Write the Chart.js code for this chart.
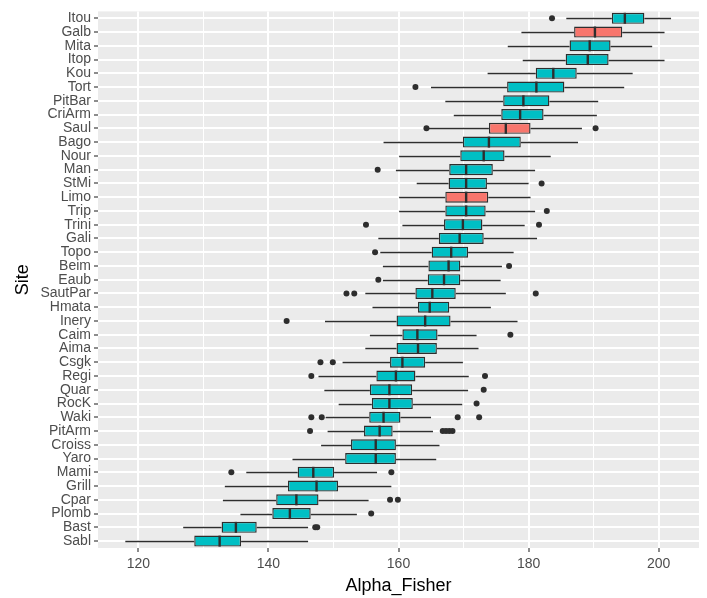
<!DOCTYPE html>
<html>
<head>
<meta charset="utf-8">
<script src="https://cdn.jsdelivr.net/npm/chart.js@4"></script>
<style>
html,body{margin:0;padding:0;background:#fff;}
#wrap{width:707px;height:598px;}
</style>
</head>
<body>
<div id="wrap"><canvas id="c" width="707" height="598"></canvas></div>
<script>
const sites = ['Itou','Galb','Mita','Itop','Kou','Tort','PitBar','CriArm','Saul','Bago','Nour','Man','StMi','Limo','Trip','Trini','Gali','Topo','Beim','Eaub','SautPar','Hmata','Inery','Caim','Aima','Csgk','Regi','Quar','RocK','Waki','PitArm','Croiss','Yaro','Mami','Grill','Cpar','Plomb','Bast','Sabl'];
const whiskerLow  = [185.8,178.9,176.8,179.1,173.7,165.0,167.2,168.5,164.6,157.7,160.1,159.6,162.8,160.1,160.1,160.6,156.9,157.2,157.6,157.6,154.9,156.0,148.7,155.6,154.9,151.4,147.7,148.6,150.8,148.8,149.1,148.1,143.7,136.6,133.3,133.0,135.7,126.9,118.0];
const q1          = [192.8,187.0,186.3,185.7,181.1,176.7,176.1,175.8,173.9,169.9,169.5,167.8,167.7,167.2,167.2,167.0,166.2,165.1,164.6,164.5,162.6,163.0,159.7,160.6,159.7,158.7,156.6,155.6,155.9,155.5,154.7,152.7,151.8,144.5,143.0,141.2,140.6,132.8,128.6];
const median      = [194.8,190.2,189.4,189.1,183.8,181.2,179.2,178.7,176.5,173.9,173.1,170.4,170.4,170.4,170.4,169.9,169.4,168.1,167.7,167.0,165.2,164.8,164.1,162.9,163.0,160.6,159.6,158.6,158.6,157.7,157.1,156.5,156.5,146.9,147.4,144.3,143.3,135.0,132.5];
const q3          = [197.8,194.4,192.6,192.3,187.4,185.5,183.2,182.3,180.3,178.8,176.3,174.5,173.6,173.8,173.4,172.9,173.1,170.7,169.5,169.5,168.8,167.8,168.0,166.0,165.9,164.1,162.6,162.1,162.2,160.3,159.1,159.6,159.6,150.1,150.7,147.7,146.5,138.2,135.8];
const whiskerHigh = [201.9,200.9,199.0,200.9,196.0,194.7,190.7,190.5,188.2,187.6,183.4,181.0,180.0,180.3,181.0,179.4,181.3,177.7,175.9,175.7,176.5,174.2,178.3,172.0,172.3,169.9,170.8,170.7,169.8,165.0,165.3,166.3,165.8,156.7,158.9,155.4,153.6,146.1,146.1];
const redSites = ['Galb','Saul','Limo'];
const outliers = [
  ['Itou',183.6],['Tort',162.6],['Saul',164.3],['Saul',190.3],['Man',156.8],['StMi',182.0],
  ['Trip',182.8],['Trini',155.0],['Trini',181.6],['Topo',156.4],['Beim',177.0],['Eaub',156.9],
  ['SautPar',152.0],['SautPar',153.2],['SautPar',181.1],['Inery',142.8],['Caim',177.2],
  ['Csgk',148.0],['Csgk',149.9],['Regi',146.6],['Regi',173.3],['Quar',173.1],['RocK',172.0],
  ['Waki',146.6],['Waki',148.2],['Waki',169.1],['Waki',172.4],['PitArm',146.4],
  ['PitArm',166.8],['PitArm',167.3],['PitArm',167.8],['PitArm',168.3],
  ['Mami',134.3],['Mami',158.9],['Cpar',158.7],['Cpar',159.9],['Plomb',155.8],
  ['Bast',147.2],['Bast',147.5]
];
const xMajorTicks = [120,140,160,180,200];
const xMinorTicks = [130,150,170,190];
const xMin = 113.8, xMax = 206.2;

const TEAL = '#00BFC4', RED = '#F8766D', EDGE = '#2E2E2E';
const FONT = "'Liberation Sans', Arial, Helvetica, sans-serif";

const boxPlugin = {
  id: 'boxParts',
  beforeDraw(chart) {
    const {ctx, chartArea: a} = chart;
    ctx.save();
    ctx.fillStyle = '#EBEBEB';
    ctx.fillRect(a.left, a.top, a.right - a.left, a.bottom - a.top);
    ctx.restore();
  },
  beforeDatasetsDraw(chart) {
    const {ctx} = chart;
    const xs = chart.scales.x, ys = chart.scales.y;
    ctx.save();
    ctx.strokeStyle = EDGE;
    ctx.lineWidth = 1.3;
    sites.forEach((s, i) => {
      const y = Math.round(ys.getPixelForValue(i)) + 0.5;
      ctx.beginPath();
      ctx.moveTo(xs.getPixelForValue(whiskerLow[i]), y);
      ctx.lineTo(xs.getPixelForValue(q1[i]), y);
      ctx.moveTo(xs.getPixelForValue(q3[i]), y);
      ctx.lineTo(xs.getPixelForValue(whiskerHigh[i]), y);
      ctx.stroke();
    });
    ctx.restore();
  },
  afterDatasetsDraw(chart) {
    const {ctx} = chart;
    const xs = chart.scales.x;
    const meta = chart.getDatasetMeta(0);
    ctx.save();
    ctx.strokeStyle = EDGE;
    ctx.lineWidth = 2.4;
    meta.data.forEach((bar, i) => {
      const x = xs.getPixelForValue(median[i]);
      const h = bar.height;
      ctx.beginPath();
      ctx.moveTo(x, bar.y - h / 2);
      ctx.lineTo(x, bar.y + h / 2);
      ctx.stroke();
    });
    ctx.restore();
  }
};

new Chart(document.getElementById('c'), {
  type: 'bar',
  data: {
    labels: sites,
    datasets: [
      {
        type: 'bar',
        data: sites.map((s, i) => [q1[i], q3[i]]),
        backgroundColor: sites.map(s => redSites.includes(s) ? RED : TEAL),
        borderColor: EDGE,
        borderWidth: 1.4,
        borderSkipped: false,
        barPercentage: 0.8,
        categoryPercentage: 1.0,
        order: 2
      },
      {
        type: 'scatter',
        data: outliers.map(o => ({x: o[1], y: o[0]})),
        backgroundColor: EDGE,
        borderWidth: 0,
        pointRadius: 3,
        pointHoverRadius: 3,
        order: 1
      }
    ]
  },
  options: {
    indexAxis: 'y',
    responsive: false,
    animation: false,
    devicePixelRatio: 1,
    layout: {padding: {left: 0, right: 8, top: 9, bottom: 0}},
    plugins: {legend: {display: false}, tooltip: {enabled: false}},
    scales: {
      x: {
        type: 'linear',
        min: xMin, max: xMax,
        afterBuildTicks(scale) {
          scale.ticks = xMajorTicks.concat(xMinorTicks).sort((a, b) => a - b).map(v => ({value: v}));
        },
        afterFit(scale) { scale.height = 50; },
        ticks: {
          callback: v => xMajorTicks.includes(v) ? String(v) : '',
          color: '#4D4D4D',
          font: {family: FONT, size: 14},
          padding: 4,
          maxRotation: 0,
          autoSkip: false
        },
        grid: {
          color: '#FFFFFF',
          lineWidth: ctx => (ctx.tick && xMajorTicks.includes(ctx.tick.value)) ? 2 : 1,
          tickColor: ctx => (ctx.tick && xMajorTicks.includes(ctx.tick.value)) ? EDGE : 'rgba(0,0,0,0)',
          tickLength: 4,
          tickWidth: 1.1,
          drawOnChartArea: true
        },
        border: {display: false},
        title: {
          display: true,
          text: 'Alpha_Fisher',
          color: '#000000',
          font: {family: FONT, size: 18},
          padding: {top: 0, bottom: 1.2}
        }
      },
      y: {
        type: 'category',
        offset: true,
        afterFit(scale) { scale.width = 98; },
        ticks: {
          color: '#4D4D4D',
          font: {family: FONT, size: 14},
          padding: 3,
          autoSkip: false
        },
        grid: {
          offset: false,
          color: '#FFFFFF',
          lineWidth: 2,
          tickColor: EDGE,
          tickLength: 4,
          tickWidth: 1.1
        },
        border: {display: false},
        title: {
          display: true,
          text: 'Site',
          color: '#000000',
          font: {family: FONT, size: 18},
          padding: {top: 12.2, bottom: 0}
        }
      }
    }
  },
  plugins: [boxPlugin]
});
</script>
</body>
</html>
